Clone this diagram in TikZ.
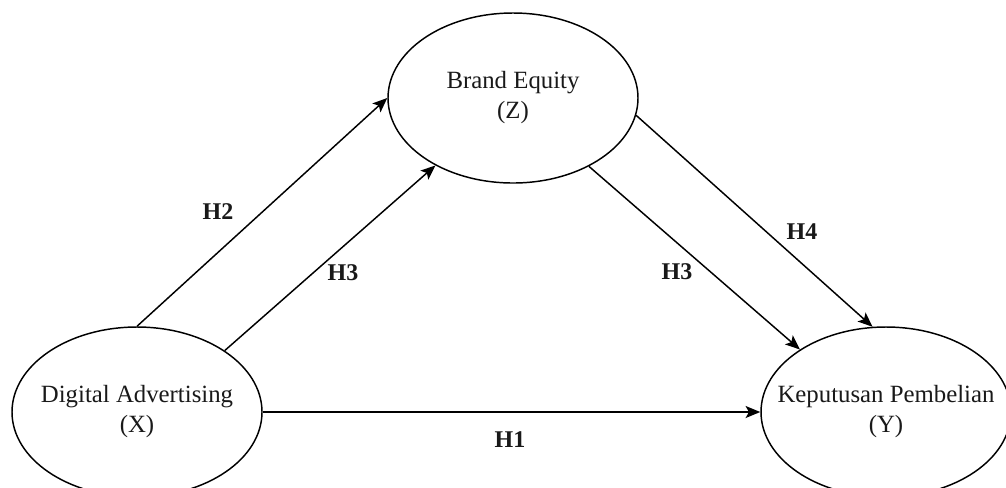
\documentclass[tikz,border=0pt]{standalone}
\usepackage{fontspec}
\setmainfont{Liberation Serif}
\usetikzlibrary{arrows.meta,shapes.geometric}

\begin{document}
\begin{tikzpicture}[x=0.75pt,y=-0.75pt]
%
\definecolor{col_line}{rgb}{0.0,0.0,0.0}
\definecolor{col_lab}{rgb}{0.1,0.1,0.1}
%
%
\tikzset{
  var/.style={ellipse,draw=col_line,line width=1.1pt,
    minimum width=187.5pt,minimum height=127.5pt,
    inner xsep=-25pt,inner ysep=0pt,
    align=center,text=col_lab,font=\fontsize{18.6}{22.5}\selectfont},
  hyp/.style={draw=col_line,line width=1.1pt,
    -{Stealth[length=11pt,width=9pt,inset=2.5pt]}},
  hlab/.style={text=col_lab,font=\fontsize{18}{20}\selectfont\bfseries}
}
%
\clip (0,0) rectangle (1006,487);
%
\node[var] (X) at (137,412) {Digital Advertising\\(X)};
\node[var] (Z) at (513,98) {Brand Equity\\(Z)};
\node[var] (Y) at (886,412) {Keputusan Pembelian\\(Y)};
%
%
\draw[hyp] (X.east) -- (Y.west);
\draw[hyp] (X.north) -- (Z.west);
\draw[hyp] (X.35) -- (Z.-139);
\draw[hyp] (Z.-42) -- (Y.144);
\draw[hyp] (Z.-8) -- (Y.99);
%
%
\node[hlab] (h1) at (510,440) {H1};
\node[hlab] (h2) at (218,212) {H2};
\node[hlab] (h3a) at (343,273) {H3};
\node[hlab] (h3b) at (677,272) {H3};
\node[hlab] (h4) at (802,232) {H4};
%
\end{tikzpicture}
\end{document}
